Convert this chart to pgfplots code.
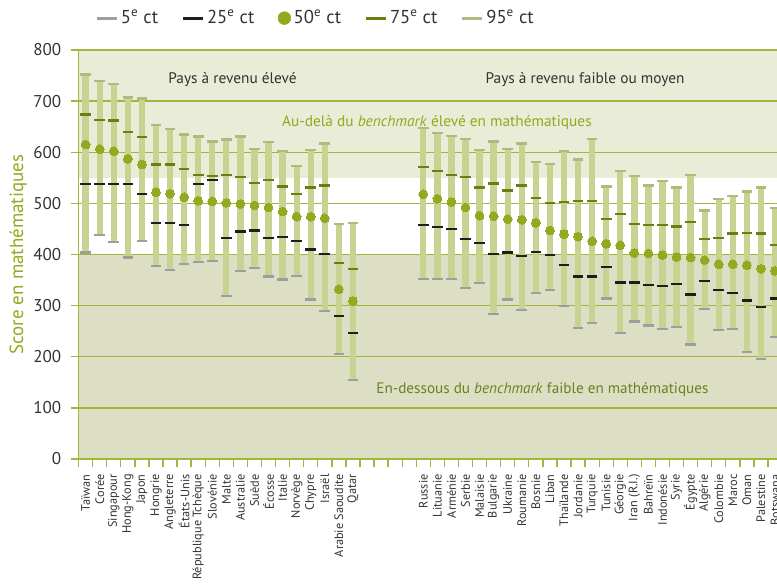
\documentclass[border=0pt]{standalone}
\usepackage{fontspec}
\setmainfont{PT Sans}
\usepackage{pgfplots}
\pgfplotsset{compat=1.18}
\usepackage{pgfplotstable}

\definecolor{barcol}{HTML}{C8D391}
\definecolor{p5col}{HTML}{9E9E9E}
\definecolor{p25col}{HTML}{1E1E1E}
\definecolor{p50col}{HTML}{94A820}
\definecolor{p75col}{HTML}{6C7D14}
\definecolor{p95col}{HTML}{AEBB7E}
\definecolor{bgtop}{HTML}{E9ECD6}
\definecolor{bgbot}{HTML}{DCDFC3}
\definecolor{gridcol}{HTML}{A4B53D}
\definecolor{textgray}{HTML}{333333}
\definecolor{olivetxt}{HTML}{6E8020}

% percentiles, x = slot (20-23 left empty)
\pgfplotstableread{
x  p5  p25 p50 p75 p95
0  404 538 615 674 752
1  438 538 606 663 740
2  424 538 602 662 733
3  394 538 587 640 707
4  426 518 576 630 705
5  377 462 522 576 653
6  369 461 519 576 645
7  382 458 512 567 635
8  385 538 505 555 631
9  387 546 504 554 621
10 319 432 501 556 625
11 368 445 499 551 631
12 373 447 496 540 607
13 357 433 492 546 620
14 351 434 484 533 602
15 358 427 474 518 573
16 312 410 474 531 604
17 289 401 471 535 617
18 205 280 332 383 459
19 155 246 309 372 462
24 352 458 518 571 647
25 352 454 509 563 637
26 352 450 503 556 632
27 334 430 492 552 626
28 344 422 476 531 604
29 283 401 475 539 621
30 312 404 469 525 606
31 291 397 468 535 617
32 325 405 462 511 581
33 330 399 447 501 577
34 300 379 440 502 602
35 256 357 435 505 586
36 266 357 426 505 626
37 314 376 421 469 533
38 246 345 418 479 564
39 269 345 403 460 553
40 261 340 402 458 535
41 254 338 399 458 544
42 258 342 395 455 531
43 224 322 394 463 555
44 293 348 389 430 486
45 252 331 381 432 508
46 254 325 381 441 514
47 209 310 379 442 523
48 195 298 372 441 531
49 239 314 368 419 491
}\scores

\begin{document}
\begin{tikzpicture}
\begin{axis}[
    set layers,
    width=523.8pt, height=306.75pt, scale only axis,
    xmin=-0.5, xmax=49.14, ymin=0, ymax=800,
    ytick={0,100,...,800},
    xtick={0,...,19,24,25,...,49},
    xticklabels={Taïwan,Corée,Singapour,Hong-Kong,Japon,Hongrie,Angleterre,États-Unis,République Tchèque,Slovénie,Malte,Australie,Suède,Écosse,Italie,Norvège,Chypre,Israël,Arabie Saoudite,Qatar,
        Russie,Lituanie,Arménie,Serbie,Malaisie,Bulgarie,Ukraine,Roumanie,Bosnie,Liban,Thaïlande,Jordanie,Turquie,Tunisie,Géorgie,Iran (R.I.),Bahreïn,Indonésie,Syrie,Égypte,Algérie,Colombie,Maroc,Oman,Palestine,Botswana},
    minor xtick={-0.5,0.5,...,49.5},
    major x tick style={draw=none},
    axis x line*=bottom, axis y line*=left,
    tick align=outside,
    major tick length=6pt, minor tick length=6pt,
    every tick/.style={gridcol, line width=1pt},
    axis line style={gridcol, line width=1pt},
    ymajorgrids, grid style={gridcol, line width=1pt},
    /pgf/number format/assume math mode=true,
    yticklabel style={text=textgray, font=\fontsize{12.8}{13}\selectfont},
    yticklabel shift=3.5pt,
    xticklabel style={text=textgray, rotate=90, anchor=east, font=\fontsize{9.2}{10}\selectfont},
    xticklabel shift=2pt,
    ylabel={Score en mathématiques},
    ylabel shift=-2pt,
    ylabel style={text=p50col, font=\fontsize{14.2}{15}\selectfont},
    legend columns=5,
    legend style={draw=none, fill=none, at={(0.0235,1.078)}, anchor=west, inner sep=0pt,
        font=\fontsize{14}{15}\selectfont, text=textgray,
        /tikz/every even column/.append style={column sep=15.5pt}},
]
% background bands
\addplot[forget plot, on layer=axis background, fill=bgtop, draw=none]
    coordinates {(-0.5,550) (50,550) (50,800) (-0.5,800)} -- cycle;
\addplot[forget plot, on layer=axis background, fill=bgbot, draw=none]
    coordinates {(-0.5,0) (50,0) (50,400) (-0.5,400)} -- cycle;

% legend
\addlegendimage{legend image code/.code={\draw[p5col, line width=2.2pt] (0pt,0pt) -- (15pt,0pt);}}
\addlegendentry{5\textsuperscript{e} ct}
\addlegendimage{legend image code/.code={\draw[p25col, line width=2.2pt] (0pt,0pt) -- (15pt,0pt);}}
\addlegendentry{25\textsuperscript{e} ct}
\addlegendimage{legend image code/.code={\fill[p50col] (7.5pt,0pt) circle (4.8pt);}}
\addlegendentry{50\textsuperscript{e} ct}
\addlegendimage{legend image code/.code={\draw[p75col, line width=2.2pt] (0pt,0pt) -- (15pt,0pt);}}
\addlegendentry{75\textsuperscript{e} ct}
\addlegendimage{legend image code/.code={\draw[p95col, line width=2.2pt] (0pt,0pt) -- (15pt,0pt);}}
\addlegendentry{95\textsuperscript{e} ct}

% 5th to 95th bar
\addplot[forget plot, draw=none, mark=none,
    error bars/.cd, y dir=plus, y explicit, error mark=none,
    error bar style={line width=4.75pt, draw=barcol}]
    table[x=x, y=p5, y error expr=\thisrow{p95}-\thisrow{p5}] {\scores};
\addplot[forget plot, color=p95col, only marks, mark=-, mark size=4pt, mark options={line width=1.7pt, draw=p95col}]
    table[x=x, y=p95] {\scores};
\addplot[forget plot, color=p5col, only marks, mark=-, mark size=4pt, mark options={line width=1.7pt, draw=p5col}]
    table[x=x, y=p5] {\scores};
\addplot[forget plot, color=p75col, only marks, mark=-, mark size=4pt, mark options={line width=1.7pt, draw=p75col}]
    table[x=x, y=p75] {\scores};
\addplot[forget plot, color=p25col, only marks, mark=-, mark size=4pt, mark options={line width=1.7pt, draw=p25col}]
    table[x=x, y=p25] {\scores};
\addplot[forget plot, color=p50col, only marks, mark=*, mark size=3.3pt, mark options={draw=p50col, fill=p50col, line width=0pt}]
    table[x=x, y=p50] {\scores};

\node[text=textgray, font=\fontsize{11.5}{13}\selectfont] at (axis cs:10.44,743) {Pays à revenu élevé};
\node[text=textgray, font=\fontsize{11.5}{13}\selectfont] at (axis cs:35.5,743) {Pays à revenu faible ou moyen};
\node[text=p50col, font=\fontsize{11.5}{13}\selectfont] at (axis cs:24.97,659) {Au-delà du \textit{benchmark} élevé en mathématiques};
\node[text=olivetxt, font=\fontsize{11.4}{13}\selectfont] at (axis cs:32.47,135) {En-dessous du \textit{benchmark} faible en mathématiques};
\end{axis}
\pgfresetboundingbox
\path[use as bounding box] (current axis.south west) ++(-58.95pt,-93pt) rectangle ++(582.75pt,437.25pt);
\end{tikzpicture}
\end{document}
